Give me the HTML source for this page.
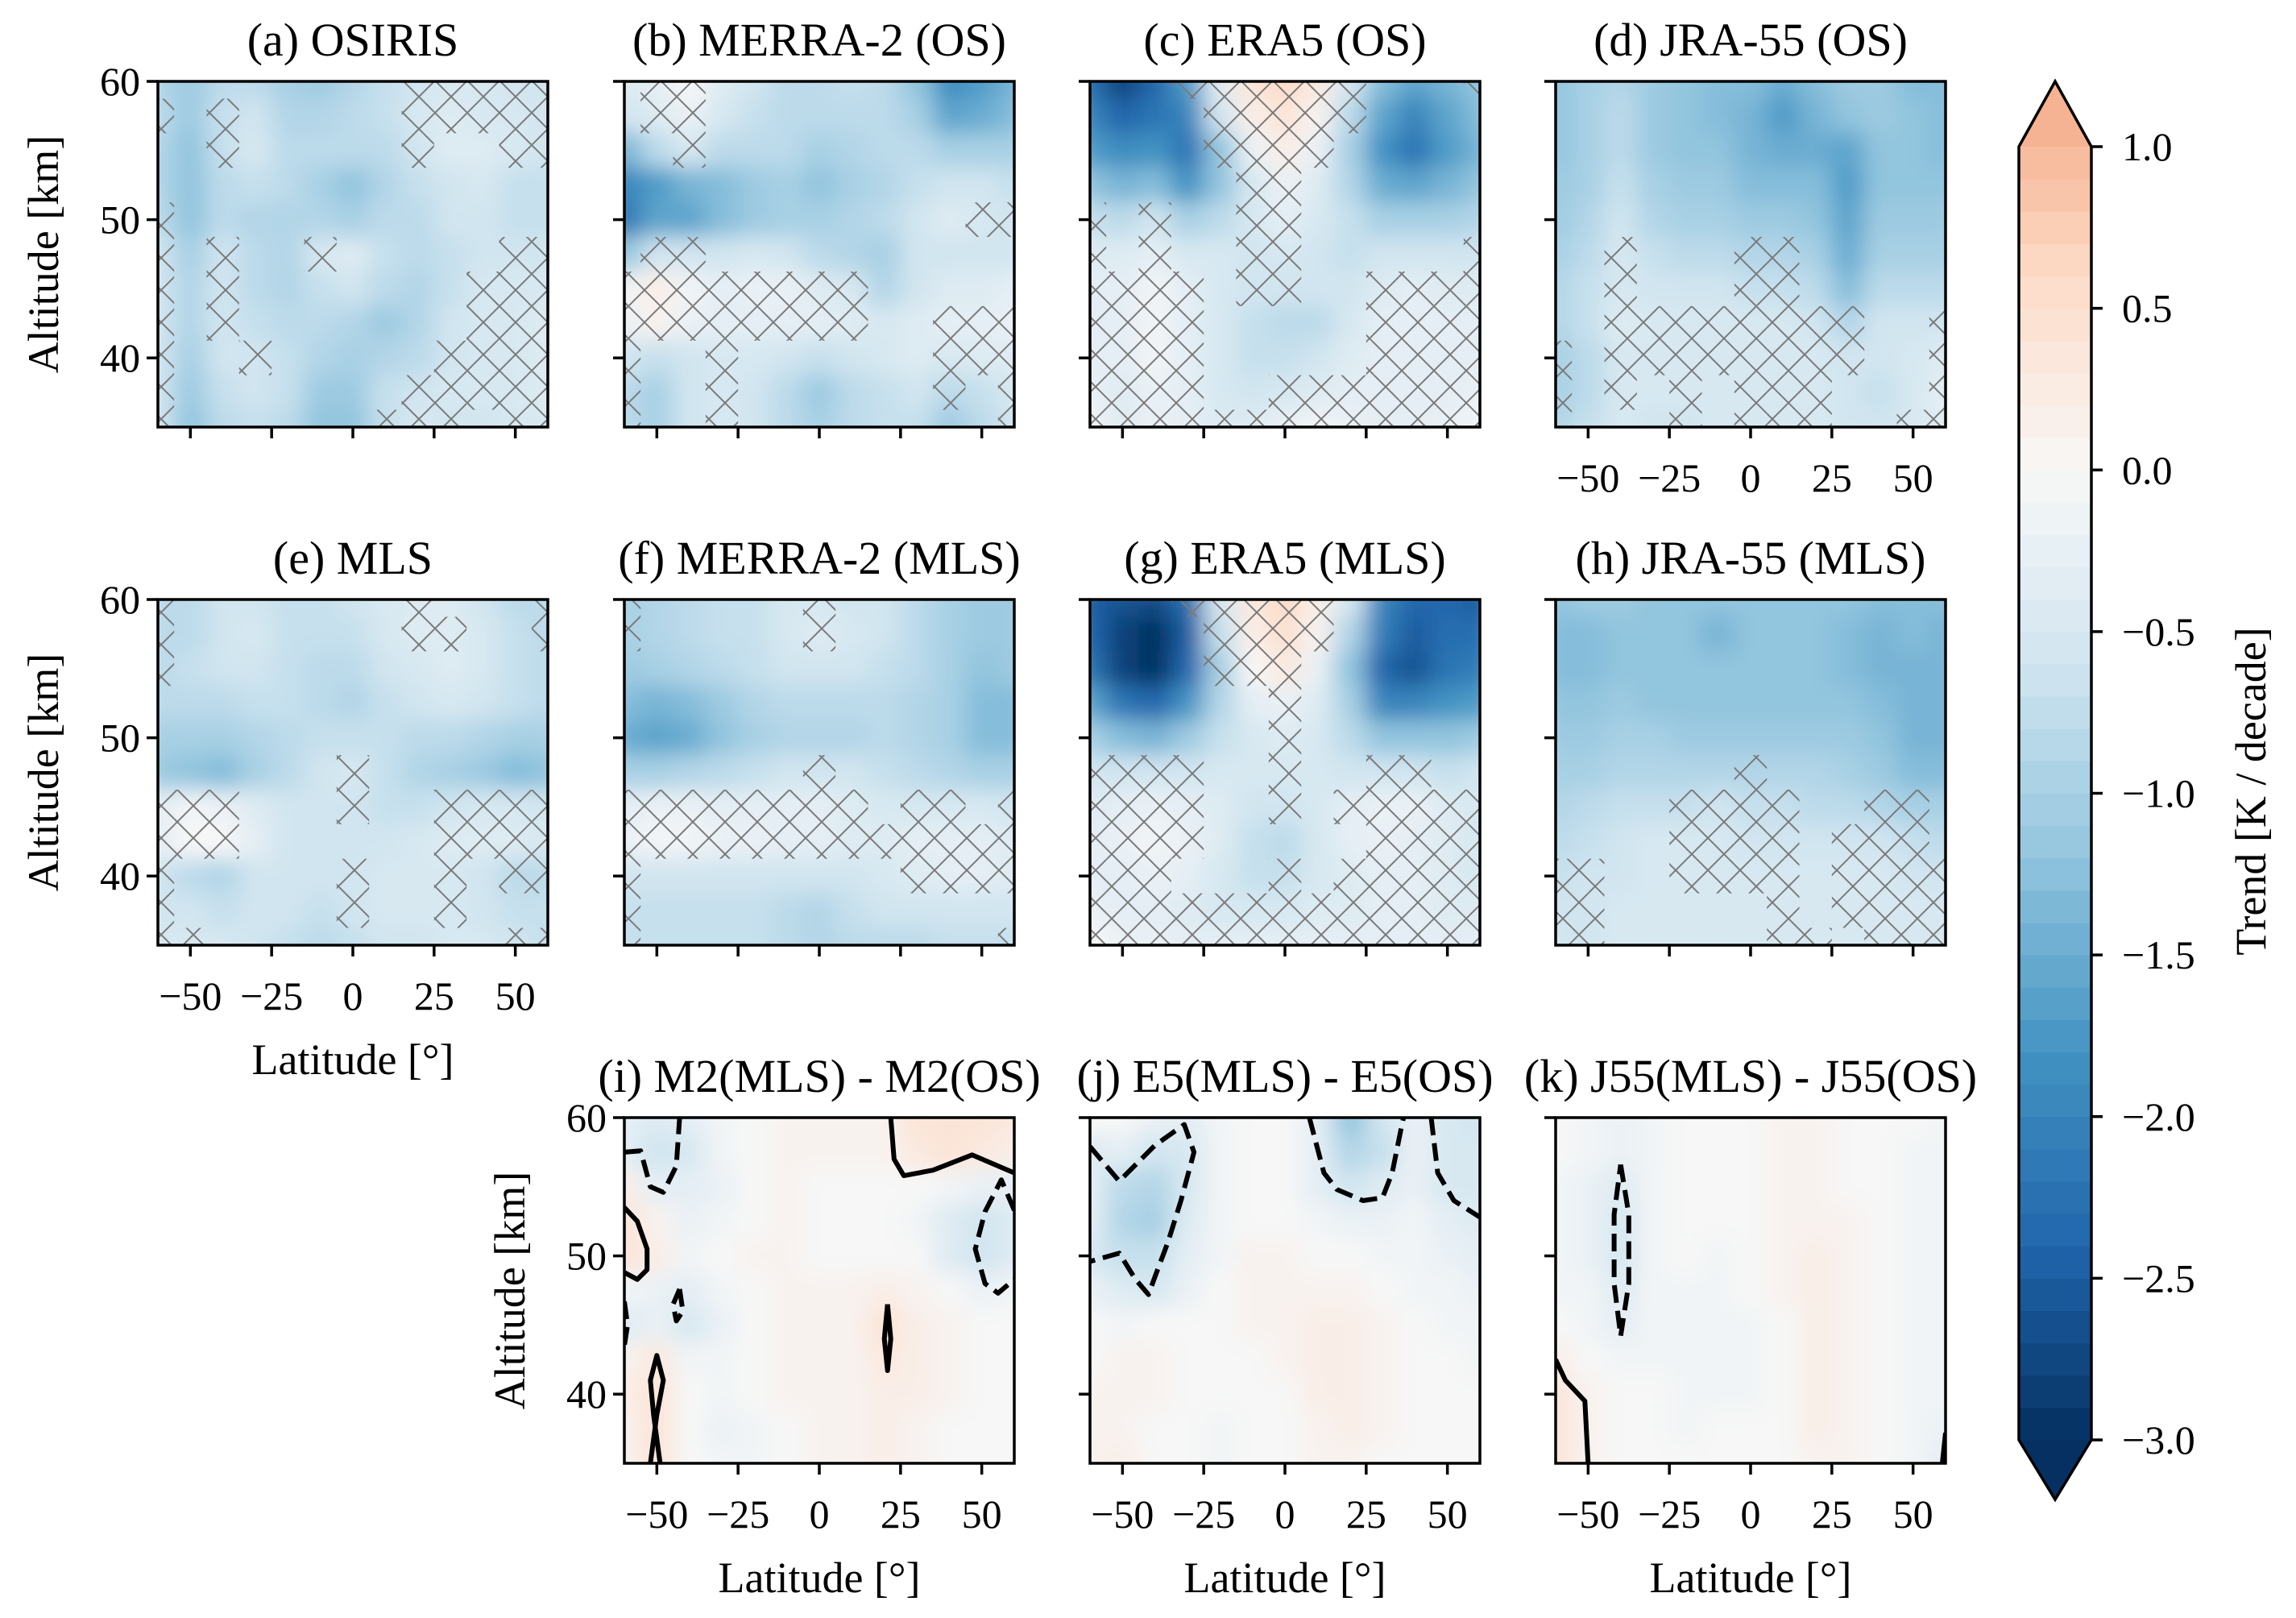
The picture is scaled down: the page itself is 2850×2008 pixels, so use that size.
<!DOCTYPE html>
<html><head><meta charset="utf-8">
<style>
html,body{margin:0;padding:0;background:#fff;}
svg{display:block;font-family:"Liberation Serif",serif;}
</style></head>
<body>
<svg id="fig" xmlns="http://www.w3.org/2000/svg" width="2850" height="2008" viewBox="0 0 2850 2008">
<defs>
<pattern id="hatch" patternUnits="userSpaceOnUse" width="40" height="40">
<path d="M0,0L40,40M0,40L40,0M-10,10L10,-10M30,50L50,30M-10,30L10,50M30,-10L50,10" stroke="#7a7a7a" stroke-width="2" fill="none"/>
</pattern>
<filter id="blur" x="0" y="0" width="1" height="1" filterUnits="objectBoundingBox">
<feGaussianBlur stdDeviation="14 13" edgeMode="duplicate"/>
</filter>
</defs>
</svg>
<script>
const LATS=[-60,-50,-40,-30,-20,-10,0,10,20,30,40,50,60];
const ALTS=[60,57.5,55,52.5,50,47.5,45,42.5,40,37.5,35];
const X_TICKS=[-50,-25,0,25,50];
const X_TICK_LABELS=["\u221250","\u221225","0","25","50"];
const Y_TICKS=[40,50,60];
const CB_TICKS=[1.0,0.5,0.0,-0.5,-1.0,-1.5,-2.0,-2.5,-3.0];
const CB_TICK_LABELS=["1.0","0.5","0.0","\u22120.5","\u22121.0","\u22121.5","\u22122.0","\u22122.5","\u22123.0"];

const trendA=[
[-0.9,-1.1,-0.8,-0.8,-1.0,-1.1,-0.9,-0.7,-0.6,-0.5,-0.5,-0.6,-0.6],
[-0.8,-1.1,-0.7,-0.6,-0.9,-0.9,-0.8,-0.7,-0.5,-0.4,-0.5,-0.5,-0.6],
[-0.9,-1.2,-0.7,-0.5,-0.8,-0.8,-0.8,-0.8,-0.6,-0.4,-0.4,-0.5,-0.6],
[-0.9,-1.2,-0.8,-0.7,-0.8,-1.0,-1.2,-0.9,-0.7,-0.6,-0.5,-0.7,-0.7],
[-0.8,-1.2,-0.8,-0.9,-0.9,-0.9,-1.0,-0.8,-0.8,-0.6,-0.6,-0.7,-0.7],
[-0.6,-1.0,-0.6,-0.8,-0.9,-0.5,-0.4,-0.7,-0.8,-0.7,-0.6,-0.6,-0.6],
[-0.6,-0.9,-0.6,-0.8,-0.9,-0.7,-0.6,-0.8,-0.9,-0.7,-0.5,-0.5,-0.5],
[-0.6,-0.9,-0.6,-0.7,-0.8,-0.8,-0.9,-1.1,-0.9,-0.6,-0.5,-0.5,-0.4],
[-0.6,-1.0,-0.6,-0.6,-0.7,-0.9,-1.0,-0.9,-0.8,-0.6,-0.5,-0.5,-0.4],
[-0.6,-1.1,-0.7,-0.6,-0.7,-1.1,-1.1,-0.7,-0.6,-0.5,-0.5,-0.5,-0.4],
[-0.6,-1.2,-0.8,-0.7,-0.8,-1.2,-1.2,-0.7,-0.5,-0.6,-0.6,-0.5,-0.5]];
const trendB=[
[-0.4,-0.3,0.0,-0.4,-0.6,-0.8,-0.8,-0.7,-0.8,-1.2,-1.9,-1.7,-1.4],
[-0.6,-0.4,-0.2,-0.5,-0.7,-0.8,-0.8,-0.8,-0.8,-1.0,-1.6,-1.5,-1.3],
[-1.4,-0.8,-0.5,-0.8,-0.8,-0.8,-1.0,-0.9,-0.8,-0.8,-1.0,-1.0,-1.0],
[-2.0,-1.7,-1.4,-1.3,-1.1,-1.0,-1.2,-1.0,-0.9,-0.7,-0.6,-0.6,-0.7],
[-2.2,-1.6,-1.6,-1.3,-1.1,-1.0,-1.0,-0.9,-0.8,-0.6,-0.4,-0.5,-0.6],
[-1.2,-0.6,-0.6,-0.6,-0.5,-0.6,-0.8,-0.9,-1.0,-0.6,-0.6,-0.6,-0.6],
[-0.1,0.2,-0.1,-0.3,-0.2,-0.2,-0.4,-0.5,-0.9,-0.6,-0.4,-0.4,-0.3],
[-0.2,0.1,-0.2,-0.3,-0.3,-0.3,-0.3,-0.4,-0.5,-0.4,-0.3,-0.3,-0.2],
[-0.6,-0.7,-0.6,-0.5,-0.5,-0.6,-0.7,-0.6,-0.5,-0.4,-0.5,-0.4,-0.4],
[-0.8,-1.0,-0.6,-0.5,-0.6,-0.8,-1.1,-0.8,-0.7,-0.6,-0.8,-0.7,-0.5],
[-0.8,-1.0,-0.6,-0.5,-0.6,-0.8,-1.0,-0.8,-0.7,-0.7,-1.1,-0.8,-0.6]];
const trendC=[
[-2.3,-2.8,-2.4,-1.7,-0.3,0.4,0.6,0.3,-0.5,-1.3,-1.6,-1.4,-1.2],
[-2.0,-2.4,-2.2,-2.0,-0.6,0.2,0.4,0.1,-0.8,-1.6,-2.0,-1.6,-1.3],
[-1.7,-1.9,-1.8,-2.2,-1.2,-0.2,0.2,-0.2,-1.0,-1.8,-2.2,-1.7,-1.4],
[-1.2,-1.4,-1.3,-1.8,-1.2,-0.5,-0.2,-0.4,-0.9,-1.5,-1.6,-1.4,-1.2],
[-0.7,-0.8,-0.6,-1.0,-0.8,-0.5,-0.3,-0.5,-0.7,-1.0,-1.0,-1.0,-0.9],
[-0.4,-0.4,-0.3,-0.5,-0.5,-0.6,-0.5,-0.6,-0.7,-0.6,-0.6,-0.6,-0.6],
[-0.3,-0.3,-0.1,-0.3,-0.5,-0.6,-0.6,-0.6,-0.6,-0.4,-0.3,-0.4,-0.4],
[-0.3,-0.3,-0.1,-0.3,-0.5,-0.7,-0.8,-0.8,-0.5,-0.3,-0.3,-0.3,-0.3],
[-0.3,-0.3,-0.1,-0.3,-0.5,-0.7,-0.7,-0.6,-0.4,-0.3,-0.3,-0.3,-0.3],
[-0.2,-0.4,-0.2,-0.3,-0.5,-0.6,-0.5,-0.4,-0.3,-0.3,-0.3,-0.3,-0.2],
[-0.1,-0.4,-0.2,-0.3,-0.4,-0.4,-0.2,-0.1,-0.2,-0.3,-0.3,-0.2,-0.1]];
const trendD=[
[-1.2,-1.0,-0.9,-1.1,-1.2,-1.3,-1.3,-1.5,-1.3,-1.1,-1.1,-1.3,-1.3],
[-1.2,-1.0,-0.8,-1.1,-1.2,-1.3,-1.4,-1.7,-1.4,-1.2,-1.1,-1.2,-1.3],
[-1.2,-1.0,-0.8,-1.1,-1.2,-1.2,-1.4,-1.5,-1.5,-1.6,-1.2,-1.2,-1.3],
[-1.1,-1.0,-0.7,-1.0,-1.1,-1.1,-1.3,-1.3,-1.3,-1.7,-1.2,-1.2,-1.2],
[-1.1,-0.9,-0.6,-0.9,-1.0,-1.0,-1.1,-1.1,-1.2,-1.6,-1.1,-1.1,-1.1],
[-1.0,-0.8,-0.5,-0.7,-0.8,-0.8,-0.9,-0.9,-1.0,-1.5,-1.0,-1.0,-1.0],
[-0.9,-0.7,-0.5,-0.6,-0.6,-0.6,-0.7,-0.7,-0.8,-1.3,-0.8,-0.8,-0.8],
[-0.9,-0.7,-0.4,-0.5,-0.5,-0.5,-0.5,-0.5,-0.6,-0.9,-0.6,-0.6,-0.6],
[-1.0,-0.8,-0.5,-0.5,-0.5,-0.5,-0.5,-0.5,-0.5,-0.6,-0.6,-0.5,-0.4],
[-1.0,-0.8,-0.5,-0.5,-0.5,-0.5,-0.5,-0.5,-0.5,-0.6,-0.7,-0.5,-0.3],
[-0.9,-0.7,-0.5,-0.6,-0.6,-0.5,-0.5,-0.5,-0.5,-0.6,-0.6,-0.5,-0.3]];
const trendE=[
[-0.8,-0.8,-0.6,-0.6,-0.7,-0.7,-0.6,-0.5,-0.4,-0.4,-0.6,-0.8,-0.8],
[-0.8,-0.8,-0.6,-0.5,-0.7,-0.7,-0.7,-0.5,-0.4,-0.4,-0.5,-0.7,-0.8],
[-0.8,-0.7,-0.6,-0.6,-0.7,-0.8,-0.8,-0.6,-0.5,-0.4,-0.5,-0.7,-0.8],
[-0.8,-0.8,-0.8,-0.7,-0.7,-0.8,-0.9,-0.7,-0.6,-0.5,-0.6,-0.7,-0.8],
[-1.0,-1.0,-1.0,-0.9,-0.8,-0.7,-0.7,-0.7,-0.8,-0.8,-0.9,-1.0,-1.0],
[-1.1,-1.2,-1.3,-1.0,-0.8,-0.6,-0.5,-0.7,-0.9,-1.0,-1.1,-1.3,-1.2],
[-0.3,-0.1,-0.2,-0.4,-0.6,-0.6,-0.6,-0.7,-0.7,-0.6,-0.5,-0.5,-0.6],
[-0.3,0.0,0.0,-0.3,-0.6,-0.6,-0.6,-0.6,-0.5,-0.4,-0.4,-0.4,-0.5],
[-0.6,-0.8,-0.9,-0.6,-0.6,-0.6,-0.6,-0.5,-0.5,-0.5,-0.6,-0.8,-0.8],
[-0.6,-0.6,-0.7,-0.6,-0.6,-0.7,-0.6,-0.5,-0.5,-0.5,-0.6,-0.7,-0.7],
[-0.5,-0.5,-0.5,-0.6,-0.7,-0.8,-0.7,-0.6,-0.6,-0.5,-0.5,-0.6,-0.7]];
const trendF=[
[-1.0,-0.9,-0.8,-0.7,-0.7,-0.5,-0.5,-0.6,-0.6,-0.8,-1.0,-1.1,-1.1],
[-1.0,-0.9,-0.8,-0.7,-0.7,-0.5,-0.4,-0.5,-0.6,-0.8,-1.0,-1.1,-1.1],
[-1.1,-1.0,-0.9,-0.8,-0.7,-0.6,-0.6,-0.6,-0.7,-0.8,-1.0,-1.2,-1.1],
[-1.3,-1.4,-1.3,-1.1,-0.9,-0.8,-0.8,-0.8,-0.8,-0.9,-1.0,-1.3,-1.3],
[-1.5,-1.6,-1.5,-1.2,-1.0,-0.9,-0.9,-0.9,-0.8,-0.9,-1.0,-1.3,-1.3],
[-1.0,-1.0,-0.9,-0.8,-0.7,-0.6,-0.6,-0.6,-0.7,-0.8,-0.9,-1.0,-1.0],
[-0.3,-0.2,-0.2,-0.3,-0.3,-0.3,-0.3,-0.4,-0.5,-0.5,-0.5,-0.5,-0.6],
[-0.2,-0.1,-0.1,-0.2,-0.2,-0.3,-0.3,-0.4,-0.4,-0.3,-0.3,-0.3,-0.4],
[-0.6,-0.6,-0.6,-0.6,-0.6,-0.6,-0.6,-0.6,-0.5,-0.4,-0.3,-0.3,-0.4],
[-0.7,-0.7,-0.7,-0.7,-0.7,-0.8,-0.9,-0.7,-0.6,-0.6,-0.6,-0.6,-0.6],
[-0.7,-0.7,-0.7,-0.7,-0.7,-0.8,-0.9,-0.8,-0.8,-0.8,-0.7,-0.7,-0.7]];
const trendG=[
[-2.5,-2.6,-2.7,-2.3,-0.5,0.3,0.6,0.2,-0.5,-2.0,-2.4,-2.4,-2.5],
[-2.4,-2.8,-3.0,-2.5,-0.7,0.2,0.5,0.1,-0.9,-2.1,-2.5,-2.3,-2.3],
[-2.2,-2.8,-3.0,-2.4,-1.0,0.0,0.3,-0.2,-1.2,-2.4,-2.6,-2.2,-2.1],
[-1.6,-2.2,-2.4,-1.8,-0.9,-0.3,-0.2,-0.4,-1.0,-2.0,-2.0,-1.8,-1.7],
[-1.0,-1.3,-1.4,-1.1,-0.7,-0.5,-0.4,-0.5,-0.8,-1.2,-1.2,-1.2,-1.1],
[-0.6,-0.6,-0.6,-0.6,-0.5,-0.5,-0.5,-0.5,-0.6,-0.6,-0.6,-0.7,-0.6],
[-0.4,-0.3,-0.2,-0.3,-0.4,-0.6,-0.6,-0.5,-0.3,-0.2,-0.2,-0.4,-0.5],
[-0.3,-0.2,-0.1,-0.2,-0.4,-0.7,-0.8,-0.5,-0.3,-0.2,-0.3,-0.4,-0.5],
[-0.3,-0.3,-0.2,-0.3,-0.5,-0.7,-0.7,-0.5,-0.4,-0.3,-0.3,-0.4,-0.5],
[-0.2,-0.3,-0.3,-0.4,-0.5,-0.5,-0.5,-0.4,-0.4,-0.3,-0.3,-0.4,-0.4],
[0.0,-0.2,-0.2,-0.3,-0.3,-0.3,-0.3,-0.3,-0.3,-0.3,-0.3,-0.3,-0.3]];
const trendH=[
[-1.2,-1.1,-1.1,-1.2,-1.2,-1.2,-1.2,-1.2,-1.2,-1.2,-1.3,-1.3,-1.3],
[-1.3,-1.3,-1.2,-1.2,-1.2,-1.4,-1.2,-1.2,-1.2,-1.3,-1.4,-1.3,-1.4],
[-1.3,-1.3,-1.2,-1.2,-1.2,-1.2,-1.2,-1.2,-1.2,-1.3,-1.4,-1.4,-1.4],
[-1.2,-1.2,-1.1,-1.2,-1.2,-1.2,-1.2,-1.2,-1.2,-1.2,-1.3,-1.4,-1.4],
[-1.1,-1.1,-1.0,-1.0,-1.1,-1.1,-1.1,-1.1,-1.1,-1.1,-1.2,-1.4,-1.4],
[-1.0,-1.0,-0.9,-0.9,-0.9,-0.9,-0.9,-0.9,-0.9,-1.0,-1.1,-1.3,-1.3],
[-0.9,-0.8,-0.7,-0.7,-0.7,-0.6,-0.7,-0.7,-0.8,-0.8,-0.9,-1.0,-1.0],
[-0.8,-0.7,-0.6,-0.5,-0.5,-0.5,-0.6,-0.6,-0.6,-0.6,-0.6,-0.7,-0.8],
[-0.7,-0.6,-0.6,-0.5,-0.5,-0.5,-0.5,-0.5,-0.5,-0.5,-0.5,-0.6,-0.6],
[-0.6,-0.6,-0.5,-0.5,-0.5,-0.5,-0.5,-0.5,-0.5,-0.5,-0.5,-0.5,-0.5],
[-0.6,-0.6,-0.5,-0.5,-0.5,-0.5,-0.5,-0.5,-0.5,-0.5,-0.5,-0.5,-0.5]];
const diffI=[
[-0.3,-0.4,-0.3,-0.1,0.0,0.1,0.1,0.1,0.1,0.4,0.4,0.4,0.3],
[-0.3,-0.6,-0.5,-0.1,0.0,0.1,0.1,0.1,0.1,0.3,0.4,0.3,0.2],
[0.2,-0.3,-0.3,-0.2,0.0,0.1,0.0,0.0,0.0,0.0,-0.1,-0.2,-0.3],
[0.4,0.1,-0.2,-0.1,0.0,0.1,0.0,0.0,0.0,-0.1,-0.4,-0.6,-0.4],
[0.4,0.2,-0.1,0.0,0.1,0.1,0.0,0.0,0.0,0.0,-0.4,-0.6,-0.4],
[-0.1,-0.2,-0.3,-0.1,0.0,0.1,0.1,0.1,0.2,0.1,0.0,-0.2,-0.1],
[-0.4,-0.2,-0.5,-0.2,0.0,0.1,0.1,0.1,0.4,0.2,0.1,0.0,0.0],
[0.1,0.3,-0.1,-0.1,0.0,0.1,0.1,0.1,0.3,0.2,0.1,0.0,0.0],
[0.2,0.4,0.0,-0.1,0.0,0.1,0.1,0.1,0.2,0.2,0.1,0.0,0.0],
[0.1,0.4,0.0,-0.2,-0.1,0.0,0.1,0.1,0.2,0.1,0.0,0.0,0.0],
[0.1,0.4,0.0,-0.1,-0.1,0.0,0.1,0.1,0.2,0.1,0.0,0.0,0.0]];
const diffJ=[
[0.0,0.0,-0.2,-0.3,-0.1,0.0,0.0,-0.3,-1.2,-0.6,-0.2,-0.5,-0.6],
[-0.4,-0.3,-0.6,-0.5,-0.1,0.0,0.0,-0.3,-0.9,-0.7,-0.2,-0.5,-0.5],
[-0.3,-0.8,-0.9,-0.5,-0.1,0.0,0.0,-0.3,-0.6,-0.4,-0.2,-0.5,-0.5],
[-0.3,-0.9,-1.0,-0.4,-0.1,0.0,0.0,-0.1,-0.2,-0.2,-0.1,-0.3,-0.4],
[-0.5,-0.7,-0.7,-0.3,-0.1,0.1,0.1,0.0,0.0,-0.1,-0.1,-0.2,-0.3],
[-0.2,-0.4,-0.5,-0.2,0.0,0.1,0.1,0.1,0.1,0.0,-0.1,-0.1,-0.2],
[0.0,-0.1,0.0,0.0,0.0,0.1,0.1,0.2,0.2,0.1,0.0,-0.1,-0.1],
[0.0,0.1,0.1,0.0,0.0,0.0,0.1,0.2,0.2,0.1,0.0,0.0,-0.1],
[0.1,0.1,0.1,0.0,0.0,0.0,0.0,0.2,0.2,0.1,0.0,0.0,0.0],
[0.1,0.1,0.0,0.0,-0.1,0.0,0.0,0.1,0.2,0.1,0.0,0.0,0.0],
[0.1,0.2,0.0,0.0,-0.1,0.0,0.0,0.1,0.1,0.0,0.0,0.0,0.0]];
const diffK=[
[0.0,-0.1,-0.2,-0.1,0.0,0.0,0.0,0.1,0.1,0.0,0.0,0.0,-0.1],
[0.0,-0.1,-0.2,-0.1,0.0,0.0,0.0,0.1,0.1,0.0,0.0,-0.1,-0.1],
[-0.1,-0.2,-0.4,-0.1,0.0,0.0,0.0,0.1,0.1,0.0,0.0,-0.1,-0.1],
[-0.1,-0.2,-0.5,-0.1,0.0,0.0,0.0,0.1,0.1,0.1,0.0,-0.1,-0.1],
[-0.1,-0.2,-0.5,-0.1,0.0,-0.1,0.0,0.1,0.2,0.1,0.0,-0.1,-0.1],
[-0.1,-0.1,-0.4,-0.1,-0.1,-0.1,0.0,0.1,0.2,0.1,0.0,-0.1,-0.1],
[0.0,-0.1,-0.3,-0.1,-0.1,-0.1,-0.1,0.0,0.2,0.1,0.0,-0.1,-0.1],
[0.2,0.0,-0.1,-0.1,-0.1,-0.1,-0.1,0.0,0.2,0.1,0.0,-0.1,-0.1],
[0.4,0.1,0.0,0.0,-0.1,-0.1,-0.1,0.0,0.2,0.1,0.0,-0.1,-0.1],
[0.4,0.1,0.0,0.0,-0.1,0.0,0.0,0.0,0.2,0.1,0.0,-0.1,-0.2],
[0.4,0.1,0.0,0.0,0.0,0.0,0.0,0.0,0.1,0.1,0.0,-0.1,-0.3]];

const hatchA=["........xxxxx","x.x.....xxxxx","..x.....x..xx",".............","x............","x.x..x.....xx","x.x.......xxx","x.x.......xxx","x..x.....xxxx","x.......xxxxx","x......xxx.xx"];
const hatchB=[".xx..........",".xx..........","..x..........",".............","...........xx",".xx..........","xxxxxxxx.....","xxxxxxxx..xxx","x..x......xxx","x..x......x.x","x..x........x"];
const hatchC=["...xxxxxx...x","....xxxxx....","....xxxx.....",".....xx......","x.x..xx......","x.x..xx.....x","xxxx.xx..xxxx","xxxx.....xxxx","xxxx.....xxxx","xxxx..xxxxxxx","xxxxxxxxxxxxx"];
const hatchD=[".............",".............",".............",".............",".............","..x...xx.....","..x...xx.....","..xxxxxxxx..x","x.xxxxxxxx..x","x.x.x.xxx...x","x...x.xxx..xx"];
const hatchE=["x.......x...x","x.......xx..x","x............",".............",".............","......x......","xxx...x..xxxx","xxx......xxxx","x.....x..x.xx","x.....x..x...","xx.........xx"];
const hatchF=["x.....x......","x.....x......",".............",".............",".............","......x......","xxxxxxxx.xx.x","xxxxxxxxxxxxx","x........xxxx","x............","x...........x"];
const hatchG=["...xxxxx.....","....xxxx.....","....xxx......","......x......","......x......","xxxx..x..xx..","xxxx..x.xxxxx","xxxx.....xxxx","xxx...x.xxxxx","xxxxxxxxxxxxx","xxxxxxxxxxxxx"];
const hatchH=[".............",".............",".............",".............",".............","......x......","....xxxx..xx.","....xxxx.xxx.","xx..xxxx.xxxx","xx.....x.xxxx","xx.....xx.xxx"];

/* contour lines as [lat, alt] points */
const contI=[
 {dash:false,pts:[[22,60],[23,57],[26,55.8],[35,56.2],[47,57.3],[60,56]]},
 {dash:false,pts:[[-60,53.5],[-56,52.5],[-53,50.5],[-53,49],[-56,48.3],[-60,48.8]]},
 {dash:true,pts:[[-60,57.5],[-55,57.6],[-52,55],[-48,54.6],[-44,56.5],[-43,60]]},
 {dash:true,pts:[[60,53.3],[56,55.5],[51,53.2],[48,50.5],[51,48],[55,47.3],[60,48.3]]},
 {dash:true,pts:[[-43,47.6],[-42,46],[-44,45.3],[-45,46.5],[-43,47.6]]},
 {dash:true,pts:[[-60,46.7],[-59,45],[-60,43.5]]},
 {dash:false,pts:[[21,46.5],[22,44],[21,41.7],[20,44],[21,46.5]]},
 {dash:false,pts:[[-52,35],[-50,38.5],[-48,41],[-50,42.8],[-52,41],[-51,38.5],[-49,35]]}];
const contJ=[
 {dash:true,pts:[[-60,57.9],[-51,55.4],[-40,58],[-31,59.5],[-28,57.5],[-32,54],[-36,51],[-40,48.5],[-42,47.2],[-46,48.3],[-51,50.2],[-60,49.6]]},
 {dash:true,pts:[[7.5,60],[12,56],[16,54.8],[24,54],[30,54.2],[33,56],[36,59.5],[36.5,60]]},
 {dash:true,pts:[[45,60],[47,56],[52,54],[60,52.8]]}];
const contK=[
 {dash:true,pts:[[-40,56.6],[-37.5,53],[-37.5,48],[-40,44.2],[-42,48],[-42,53],[-40,56.6]]},
 {dash:false,pts:[[-60,42.5],[-57,41],[-51,39.5],[-50,35]]},
 {dash:false,pts:[[60,37.2],[59,35]]}];

const NS="http://www.w3.org/2000/svg";
const svg=document.getElementById("fig");
const W=484,H=429;
const COLX=[196,775,1353,1931], ROWY=[101,744,1387];

const STOPS=["#053061","#2166ac","#4393c3","#92c5de","#d1e5f0","#f7f7f7","#fddbc7","#f4a582","#d6604d","#b2182b","#67001f"];
function hex2rgb(h){return [parseInt(h.substr(1,2),16),parseInt(h.substr(3,2),16),parseInt(h.substr(5,2),16)];}
function cmap(v){
  let t=(v+3)/6; t=Math.max(0,Math.min(1,t));
  let s=t*10, i=Math.min(9,Math.floor(s)), f=s-i;
  const a=hex2rgb(STOPS[i]), b=hex2rgb(STOPS[i+1]);
  return "rgb("+a.map((c,k)=>Math.round(c+(b[k]-c)*f)).join(",")+")";
}
function el(tag,attrs,parent){const e=document.createElementNS(NS,tag);for(const k in attrs)e.setAttribute(k,attrs[k]);(parent||svg).appendChild(e);return e;}
function txt(s,attrs,parent){const e=el("text",attrs,parent);e.textContent=s;return e;}

function panel(id,col,row,title,data,hatch,conts,opts){
  const px=COLX[col],py=ROWY[row];
  const xs=lat=>px+(lat+60)/120*W;
  const ys=alt=>py+(60-alt)/25*H;
  const g=el("g",{});
  
  
  const cp=el("clipPath",{id:"clip-"+id},g);
  el("rect",{x:px,y:py,width:W,height:H},cp);
  const clipG=el("g",{"clip-path":"url(#clip-"+id+")"},g);
  const heat=el("g",{filter:"url(#blur)"},clipG);
  
  
  data.forEach((rowv,i)=>rowv.forEach((v,j)=>{
    const x0=xs(LATS[j]-5),x1=xs(LATS[j]+5),y0=ys(ALTS[i]+1.25),y1=ys(ALTS[i]-1.25);
    const r=el("rect",{x:x0-0.5,y:y0-0.5,width:x1-x0+1,height:y1-y0+1,fill:cmap(v)},heat);
    
    
  }));
  if(hatch){
    const hg=el("g",{},clipG);
    
    
    hatch.forEach((s,i)=>{for(let j=0;j<s.length;j++){if(s[j]!=="x")continue;
      const x0=xs(LATS[j]-5),x1=xs(LATS[j]+5),y0=ys(ALTS[i]+1.25),y1=ys(ALTS[i]-1.25);
      el("rect",{x:x0,y:y0,width:x1-x0,height:y1-y0,fill:"url(#hatch)"},hg);
    }});
  }
  if(conts){
    conts.forEach((c,k)=>{
      const d=c.pts.map((p,n)=>(n?"L":"M")+xs(p[0]).toFixed(1)+","+ys(p[1]).toFixed(1)).join("");
      const p=el("path",{d:d,fill:"none",stroke:"#000","stroke-width":6,"stroke-linejoin":"round","stroke-dasharray":c.dash?"22,10":"none"},clipG);
      
      
    });
  }
  const fr=el("rect",{x:px,y:py,width:W,height:H,fill:"none",stroke:"#000","stroke-width":3.5},g);
  
  
  const t=txt(title,{x:px+W/2,y:py-32,"text-anchor":"middle","font-size":58},g);
  
  
  Y_TICKS.forEach(a=>{
    el("line",{x1:px,x2:px-14,y1:ys(a),y2:ys(a),stroke:"#000","stroke-width":3.5},g);
    if(opts.ylab){const l=txt(String(a),{x:px-22,y:ys(a)+17,"text-anchor":"end","font-size":50},g);
      
      }
  });
  X_TICKS.forEach((a,k)=>{
    el("line",{x1:xs(a),x2:xs(a),y1:py+H,y2:py+H+14,stroke:"#000","stroke-width":3.5},g);
    if(opts.xlab){const l=txt(X_TICK_LABELS[k],{x:xs(a),y:py+H+80,"text-anchor":"middle","font-size":50},g);
      
      }
  });
  if(opts.ylab){const l=txt("Altitude [km]",{x:0,y:0,"text-anchor":"middle","font-size":54,transform:"translate("+(px-124)+","+(py+H/2)+") rotate(-90)"},g);
    
    }
  if(opts.xtitle){const l=txt("Latitude [\u00b0]",{x:px+W/2,y:py+H+160,"text-anchor":"middle","font-size":54},g);
    
    }
}

panel("a",0,0,"(a) OSIRIS",trendA,hatchA,null,{ylab:true});
panel("b",1,0,"(b) MERRA-2 (OS)",trendB,hatchB,null,{});
panel("c",2,0,"(c) ERA5 (OS)",trendC,hatchC,null,{});
panel("d",3,0,"(d) JRA-55 (OS)",trendD,hatchD,null,{xlab:true});
panel("e",0,1,"(e) MLS",trendE,hatchE,null,{ylab:true,xlab:true,xtitle:true});
panel("f",1,1,"(f) MERRA-2 (MLS)",trendF,hatchF,null,{});
panel("g",2,1,"(g) ERA5 (MLS)",trendG,hatchG,null,{});
panel("h",3,1,"(h) JRA-55 (MLS)",trendH,hatchH,null,{});
panel("i",1,2,"(i) M2(MLS) - M2(OS)",diffI,null,contI,{ylab:true,xlab:true,xtitle:true});
panel("j",2,2,"(j) E5(MLS) - E5(OS)",diffJ,null,contJ,{xlab:true,xtitle:true});
panel("k",3,2,"(k) J55(MLS) - J55(OS)",diffK,null,contK,{xlab:true,xtitle:true});

/* colorbar */
const CB_LEVELS=[];
for(let k=0;k<=40;k++)CB_LEVELS.push(Math.round((-3+k*0.1)*10)/10);
const cbX=2506,cbW=90,cbTop=182,cbBot=1787;
const cy=v=>cbBot-(v+3)/4*(cbBot-cbTop);
const cb=el("g",{});


for(let k=0;k<CB_LEVELS.length-1;k++){
  const a=CB_LEVELS[k],b=CB_LEVELS[k+1];
  const r=el("rect",{x:cbX,y:cy(b)-0.5,width:cbW,height:cy(a)-cy(b)+1,fill:cmap((a+b)/2)},cb);
  
  
}
el("polygon",{points:cbX+","+cbTop+" "+(cbX+cbW/2)+",101 "+(cbX+cbW)+","+cbTop,fill:cmap(1.05)},cb);
el("polygon",{points:cbX+","+cbBot+" "+(cbX+cbW/2)+",1861 "+(cbX+cbW)+","+cbBot,fill:cmap(-3.05)},cb);
el("path",{d:"M"+cbX+","+cbTop+"L"+(cbX+cbW/2)+",101L"+(cbX+cbW)+","+cbTop+"L"+(cbX+cbW)+","+cbBot+"L"+(cbX+cbW/2)+",1861L"+cbX+","+cbBot+"Z",fill:"none",stroke:"#000","stroke-width":3.5},cb);
CB_TICKS.forEach((v,k)=>{
  el("line",{x1:cbX+cbW,x2:cbX+cbW+14,y1:cy(v),y2:cy(v),stroke:"#000","stroke-width":3.5},cb);
  const l=txt(CB_TICK_LABELS[k],{x:2634,y:cy(v)+17,"font-size":50},cb);
  
  
});
const cbl=txt("Trend [K / decade]",{x:0,y:0,"text-anchor":"middle","font-size":54,transform:"translate(2812,982) rotate(-90)"},cb);


</script>
</body></html>
